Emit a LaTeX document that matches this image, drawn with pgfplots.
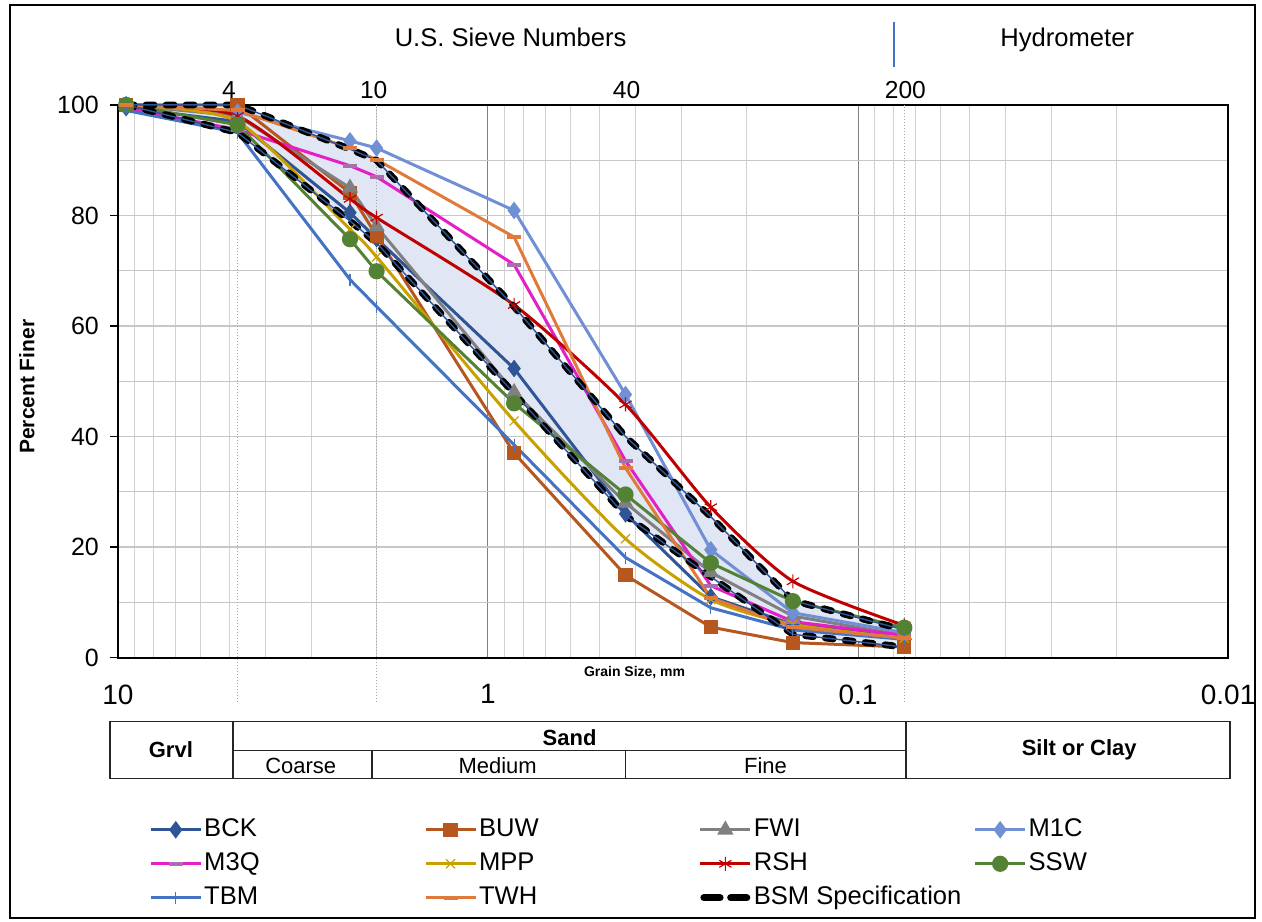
\documentclass[border=0pt]{standalone}
\usepackage{pgfplots}
\pgfplotsset{compat=1.18}
\usepgfplotslibrary{fillbetween}
\usepackage{pgfplotstable}
\usepackage{fontspec}
\setmainfont{Liberation Sans}

\definecolor{cBCK}{RGB}{47,85,151}
\definecolor{cBUW}{RGB}{181,87,30}
\definecolor{cFWI}{RGB}{128,128,128}
\definecolor{cM1C}{RGB}{112,143,212}
\definecolor{cM3Q}{RGB}{228,30,200}
\definecolor{cM3Qm}{RGB}{170,110,170}
\definecolor{cMPP}{RGB}{201,160,0}
\definecolor{cRSH}{RGB}{192,0,0}
\definecolor{cSSW}{RGB}{84,130,53}
\definecolor{cTBM}{RGB}{68,114,196}
\definecolor{cTWH}{RGB}{224,122,58}
\definecolor{cShade}{RGB}{224,230,243}

\pgfplotstableread{
d     BCK   BUW   FWI   M1C   M3Q   MPP   RSH   SSW   TBM   TWH
9.5   99.5  100   100   100   99.5  100   100   100   99    100
4.75  97    100   98    98.7  95.5  97    98    96.4  95    99
2.36  80.5  84.1  85.0  93.5  89    77.5  83    75.7  68.4  92.2
2.0   75.8  76.3  78    92.2  87    72.5  79.6  69.9  63.5  90.1
0.85  52.3  37.0  48    80.9  71.1  42.8  63.8  46.0  38.5  76.1
0.425 26.0  14.9  28    47.6  35.6  21.5  45.8  29.5  18.1  34.3
0.25  11    5.5   15.4  19.5  13    10.5  27.2  17.1  9.0   10.8
0.15  6     2.7   7.5   8.1   6.5   6     13.8  10.2  5     5.5
0.075 4     1.9   4     4.5   4     3.5   5.8   5.4   3.3   3.5
}\data

\pgfplotstableread{
d     up    lo
9.5   100   100
4.75  100   95
2.36  92    79
2.0   90    75
0.85  63.5  47.8
0.425 40    25.7
0.25  25.5  14.6
0.15  10.3  4.2
0.075 5     1.9
}\bsm

\begin{document}
\begin{tikzpicture}
\begin{axis}[
  at={(59pt,-329pt)}, anchor=south west,
  scale only axis, width=555.5pt, height=276.5pt,
  xmode=log, x dir=reverse, xmin=0.01, xmax=10,
  ymin=0, ymax=100,
  clip=false,
  axis line style={black, line width=1pt},
  xtick={0.01,0.1,1,10}, xticklabels={0.01,0.1,1,10},
  ytick={0,20,40,60,80,100},
  minor ytick={10,30,50,70,90},
  ytick pos=left,
  xmajorgrids, xminorgrids, ymajorgrids, yminorgrids,
  major x grid style={black!50, line width=0.5pt},
  minor x grid style={black!18, line width=0.5pt},
  major y grid style={black!22, line width=0.6pt},
  minor y grid style={black!22, line width=0.6pt},
  xtick style={draw=none}, minor x tick style={draw=none},
  minor y tick style={draw=none},
  ytick style={black, line width=0.6pt},
  tick align=outside, major tick length=4pt,
  /pgf/number format/assume math mode=true,
  yticklabel style={font=\fontsize{12.5}{14}\selectfont, xshift=-2pt},
  xticklabel style={font=\fontsize{14}{16}\selectfont, yshift=-6pt},
  legend image code/.code={\draw[mark repeat=2,mark phase=2] plot coordinates {(0pt,0pt)(12.5pt,0pt)(25pt,0pt)};},
  legend columns=4,
  legend cell align=left,
  legend style={at={(0.0279,-0.2866)}, anchor=north west, draw=none, fill=none,
    font=\fontsize{12.8}{14}\selectfont, inner sep=0pt,
    nodes={inner sep=1pt, text height=9pt, text depth=2.5pt},
    row sep=3.5pt},
  ser/.style={line width=1.5pt},
]
% shading between spec limits
\addplot[name path=up, draw=none, forget plot] table[x=d, y=up] {\bsm};
\addplot[name path=lo, draw=none, forget plot] table[x=d, y=lo] {\bsm};
\addplot[cShade, forget plot] fill between[of=up and lo];

% sieve reference lines
\draw[black!35, densely dotted, line width=0.5pt] (axis cs:4.75,-8) -- (axis cs:4.75,100);
\draw[black!35, densely dotted, line width=0.5pt] (axis cs:2.0,-8) -- (axis cs:2.0,100);
\draw[black!35, densely dotted, line width=0.5pt] (axis cs:0.075,-8) -- (axis cs:0.075,100);

\addplot[ser, cBCK, mark=diamond*, mark size=3.2pt, mark options={solid}] table[x=d, y=BCK] {\data};
\addlegendentry{\makebox[109pt][l]{BCK}}
\addplot[ser, cBUW, mark=square*, mark size=2.8pt] table[x=d, y=BUW] {\data};
\addlegendentry{\makebox[109pt][l]{BUW}}
\addplot[ser, cFWI, mark=triangle*, mark size=3.2pt] table[x=d, y=FWI] {\data};
\addlegendentry{\makebox[109pt][l]{FWI}}
\addplot[ser, cM1C, mark=diamond*, mark size=3.2pt] table[x=d, y=M1C] {\data};
\addlegendentry{M1C}
\addplot[ser, cM3Q, mark=-, mark size=3.5pt, mark options={cM3Qm, line width=2pt}] table[x=d, y=M3Q] {\data};
\addlegendentry{\makebox[109pt][l]{M3Q}}
\addplot[ser, cMPP, smooth, tension=0.4, mark=x, mark size=3.2pt, mark options={line width=0.6pt}] table[x=d, y=MPP] {\data};
\addlegendentry{\makebox[109pt][l]{MPP}}
\addplot[ser, cRSH, smooth, tension=0.4, mark=asterisk, mark size=3.5pt, mark options={line width=0.6pt}] table[x=d, y=RSH] {\data};
\addlegendentry{\makebox[109pt][l]{RSH}}
\addplot[ser, cSSW, mark=*, mark size=3.3pt] table[x=d, y=SSW] {\data};
\addlegendentry{SSW}
\addplot[ser, cTBM, mark=|, mark size=3pt, mark options={line width=0.6pt}] table[x=d, y=TBM] {\data};
\addlegendentry{\makebox[109pt][l]{TBM}}
\addplot[ser, cTWH, mark=-, mark size=3.5pt, mark options={line width=2pt}] table[x=d, y=TWH] {\data};
\addlegendentry{\makebox[109pt][l]{TWH}}

% spec limits
\addplot[black, line width=3.4pt, line cap=round, dash pattern=on 4pt off 6pt,
  legend image code/.code={\draw[black, solid, line width=3.6pt, line cap=round] (1.8pt,0pt)--(9.8pt,0pt) (15.2pt,0pt)--(23.2pt,0pt);}] table[x=d, y=up] {\bsm};
\addlegendentry{BSM Specification}
\addplot[black, line width=3.4pt, line cap=round, dash pattern=on 4pt off 6pt, forget plot] table[x=d, y=lo] {\bsm};
\addplot[cBCK, line width=0.7pt, forget plot] table[x=d, y=up] {\bsm};
\addplot[cBCK, line width=0.7pt, forget plot] table[x=d, y=lo] {\bsm};
\end{axis}

\begin{scope}[x=0.5pt, y=-0.5pt]
\path (0,0) rectangle (1262,922);
\draw[black, line width=1pt] (10,5) rectangle (1256,919);
% top annotations
\node[font=\fontsize{12.8}{15}\selectfont] at (511,37) {U.S. Sieve Numbers};
\node[font=\fontsize{12.8}{15}\selectfont] at (1068,40) {Hydrometer};
\draw[cTBM, line width=1pt] (895,22) -- (895,67);
\node[font=\fontsize{12.3}{14}\selectfont] at (229,90) {4};
\node[font=\fontsize{12.3}{14}\selectfont] at (374,90) {10};
\node[font=\fontsize{12.3}{14}\selectfont] at (627,90) {40};
\node[font=\fontsize{12.3}{14}\selectfont] at (906,90) {200};
% axis titles
\node[font=\bfseries\fontsize{7}{8}\selectfont] at (635,673) {Grain Size, mm};
\node[font=\bfseries\fontsize{10.5}{12}\selectfont, rotate=90] at (27,387) {Percent Finer};
% classification table
\begin{scope}[black!85, line width=0.9pt]
\draw (110,722) rectangle (1231,779);
\draw (233,722) -- (233,779);
\draw (907,722) -- (907,779);
\draw (233,751) -- (907,751);
\draw (372,751) -- (372,779);
\draw (626,751) -- (626,779);
\end{scope}
\node[font=\bfseries\fontsize{11}{13}\selectfont] at (171,750) {Grvl};
\node[font=\bfseries\fontsize{11}{13}\selectfont] at (570,738) {Sand};
\node[font=\bfseries\fontsize{11}{13}\selectfont] at (1080,750) {Silt or Clay};
\node[font=\fontsize{11}{13}\selectfont] at (301,766) {Coarse};
\node[font=\fontsize{11}{13}\selectfont] at (498,766) {Medium};
\node[font=\fontsize{11}{13}\selectfont] at (766,766) {Fine};
\end{scope}
\end{tikzpicture}
\end{document}
